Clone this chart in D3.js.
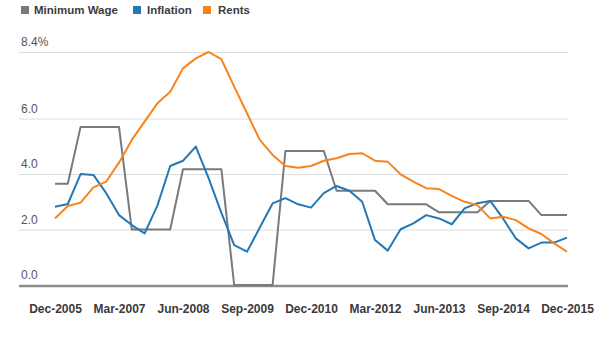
<!DOCTYPE html>
<html>
<head>
<meta charset="utf-8">
<script src="https://cdn.jsdelivr.net/npm/d3@7"></script>
<style>
  body { margin: 0; background: #fff; }
  svg { display: block; font-family: Arial, "Liberation Sans", sans-serif; }
</style>
</head>
<body>
<div id="chart"></div>
<script>
// quarterly, Dec-2005 .. Dec-2015
var quarters = [
  "Dec-2005","Mar-2006","Jun-2006","Sep-2006","Dec-2006","Mar-2007","Jun-2007","Sep-2007","Dec-2007",
  "Mar-2008","Jun-2008","Sep-2008","Dec-2008","Mar-2009","Jun-2009","Sep-2009","Dec-2009",
  "Mar-2010","Jun-2010","Sep-2010","Dec-2010","Mar-2011","Jun-2011","Sep-2011","Dec-2011",
  "Mar-2012","Jun-2012","Sep-2012","Dec-2012","Mar-2013","Jun-2013","Sep-2013","Dec-2013",
  "Mar-2014","Jun-2014","Sep-2014","Dec-2014","Mar-2015","Jun-2015","Sep-2015","Dec-2015"
];

var minimumWage = [3.65, 3.65, 5.7, 5.7, 5.7, 5.7, 2.0, 2.0, 2.0, 2.0, 4.17, 4.17, 4.17, 4.17,
  0, 0, 0, 0, 4.83, 4.83, 4.83, 4.83, 3.4, 3.4, 3.4, 3.4, 2.91, 2.91, 2.91, 2.91,
  2.62, 2.62, 2.62, 2.62, 3.03, 3.03, 3.03, 3.03, 2.52, 2.52, 2.52];

var inflation = [2.82, 2.92, 4.0, 3.97, 3.31, 2.52, 2.16, 1.86, 2.86, 4.29, 4.48, 4.99, 3.85, 2.6,
  1.44, 1.2, 2.07, 2.94, 3.13, 2.91, 2.79, 3.31, 3.57, 3.4, 3.0, 1.62, 1.24, 2.01, 2.22, 2.52,
  2.4, 2.19, 2.76, 2.95, 3.03, 2.4, 1.68, 1.32, 1.53, 1.53, 1.71];

var rents = [2.4, 2.85, 2.97, 3.52, 3.73, 4.41, 5.23, 5.89, 6.55, 6.97, 7.81, 8.17, 8.4, 8.14,
  7.15, 6.19, 5.23, 4.69, 4.29, 4.23, 4.29, 4.48, 4.57, 4.72, 4.75, 4.48, 4.44, 3.99, 3.73, 3.49,
  3.46, 3.21, 3.0, 2.88, 2.4, 2.46, 2.34, 2.04, 1.84, 1.5, 1.2];

var tickLabels = ["Dec-2005","Mar-2007","Jun-2008","Sep-2009","Dec-2010","Mar-2012","Jun-2013","Sep-2014","Dec-2015"];
var yTicks = [0, 2, 4, 6, 8.4];

var width = 616, height = 346;

var series = [
  {name: "Minimum Wage", values: minimumWage, color: "#7a7a7a"},
  {name: "Inflation", values: inflation, color: "#2279b5"},
  {name: "Rents", values: rents, color: "#f7841b"}
];

var svg = d3.select("#chart").append("svg")
    .attr("width", width)
    .attr("height", height);

var xScale = d3.scalePoint().domain(quarters).range([55, 567]);
var yScale = d3.scaleLinear().domain([0, 8.4]).range([285, 52]);

// grid + y labels
var grid = svg.append("g").attr("class", "grid");
grid.selectAll("line")
    .data(yTicks.filter(function(d) { return d > 0; }))
  .enter().append("line")
    .attr("x1", 19).attr("x2", 568)
    .attr("y1", function(d) { return yScale(d) + 0.5; })
    .attr("y2", function(d) { return yScale(d) + 0.5; })
    .attr("stroke", "#dcdcdc")
    .attr("stroke-width", 1);

grid.selectAll("text")
    .data(yTicks)
  .enter().append("text")
    .attr("x", 21)
    .attr("y", function(d) { return yScale(d) - 6; })
    .attr("font-size", "12px")
    .attr("fill", "#555")
    .text(function(d) { return d === 8.4 ? "8.4%" : d3.format(".1f")(d); });

// x axis
var xAxis = svg.append("g")
    .attr("class", "x axis")
    .attr("transform", "translate(0,286)")
    .call(d3.axisBottom(xScale).tickValues(tickLabels).tickSize(0).tickPadding(18));

xAxis.select(".domain")
    .attr("d", "M19,0H568")
    .attr("stroke", "#8c8c8c")
    .attr("stroke-width", 2.5);

xAxis.selectAll(".tick text")
    .attr("font-size", "12px")
    .attr("font-family", "Arial, 'Liberation Sans', sans-serif")
    .attr("font-weight", "bold")
    .attr("fill", "#3a3a3a");

// lines
var line = d3.line()
    .x(function(d, i) { return xScale(quarters[i]); })
    .y(function(d) { return yScale(d); });

svg.append("g").selectAll("path")
    .data(series)
  .enter().append("path")
    .attr("d", function(d) { return line(d.values); })
    .attr("fill", "none")
    .attr("stroke", function(d) { return d.color; })
    .attr("stroke-width", 2)
    .attr("stroke-linejoin", "round");

// legend
var legendBox = [21, 133, 203],
    legendText = [34, 147, 218];
var legend = svg.append("g").selectAll("g")
    .data(series)
  .enter().append("g");

legend.append("rect")
    .attr("x", function(d, i) { return legendBox[i]; })
    .attr("y", 6)
    .attr("width", 8).attr("height", 8)
    .attr("fill", function(d) { return d.color; });

legend.append("text")
    .attr("x", function(d, i) { return legendText[i]; })
    .attr("y", 14)
    .attr("font-size", "11.5px")
    .attr("font-weight", "bold")
    .attr("fill", "#3c3c3c")
    .text(function(d) { return d.name; });
</script>
</body>
</html>
